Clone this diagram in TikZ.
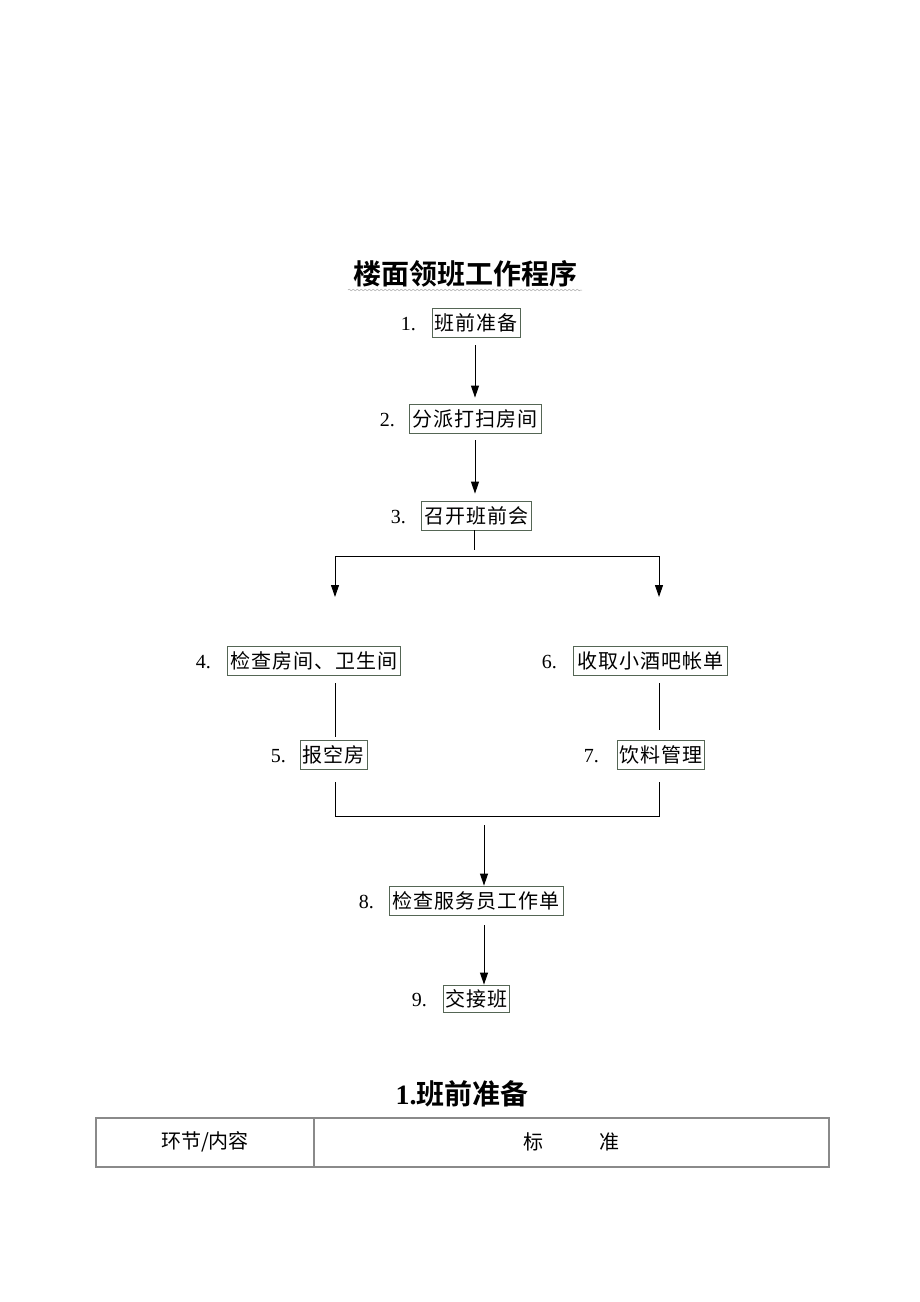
\documentclass[tikz,border=0pt]{standalone}
\usepackage{fontspec}
\setmainfont{Liberation Serif}
\newfontfamily\cjk{Noto Sans CJK SC}
\newfontfamily\cjkbox[LetterSpace=5]{Noto Sans CJK SC}
\newfontfamily\cjkb{Noto Sans CJK SC Bold}
\usetikzlibrary{arrows.meta,decorations.pathmorphing}
\definecolor{boxline}{HTML}{556655}
\definecolor{tabline}{HTML}{8A8A8A}
\begin{document}
\begin{tikzpicture}[x=1pt,y=-1pt,
  stepbox/.style={draw=boxline,line width=0.8pt,inner sep=0pt,minimum height=29pt,font=\cjkbox\fontsize{20}{20}\selectfont},
  numlabel/.style={anchor=east,inner sep=0pt,font=\fontsize{20}{20}\selectfont},
  conn/.style={line width=1pt,black},
  arr/.style={conn,-{Triangle[length=12pt,width=8pt]}},
  tab/.style={draw=tabline,line width=1.2pt},
  tabtext/.style={font=\cjk\fontsize{20}{20}\selectfont}]
\useasboundingbox (0,0) rectangle (920,1302);
% title
\node[font=\cjkb\fontsize{28}{28}\selectfont] (title) at (465,274) {楼面领班工作程序};
\draw[gray!70,line width=0.5pt,decorate,decoration={snake,amplitude=0.8pt,segment length=4pt}] (348,290) -- (582,290);
% boxes
\node[stepbox,minimum width=88pt] (b1) at (476,322.5) {班前准备};
\node[numlabel] (n1) at (416,324) {1.};
\node[stepbox,minimum width=132pt] (b2) at (475,418.5) {分派打扫房间};
\node[numlabel] (n2) at (395,420) {2.};
\node[stepbox,minimum width=110pt] (b3) at (476,515.5) {召开班前会};
\node[numlabel] (n3) at (406,517) {3.};
\node[stepbox,minimum width=173pt] (b4) at (313.5,661) {检查房间、卫生间};
\node[numlabel] (n4) at (211,662) {4.};
\node[stepbox,minimum width=67pt] (b5) at (333.5,755) {报空房};
\node[numlabel] (n5) at (286,756) {5.};
\node[stepbox,minimum width=154pt] (b6) at (650,661) {收取小酒吧帐单};
\node[numlabel] (n6) at (557,662) {6.};
\node[stepbox,minimum width=87pt] (b7) at (660.5,755) {饮料管理};
\node[numlabel] (n7) at (599,756) {7.};
\node[stepbox,minimum width=174pt] (b8) at (476,900.5) {检查服务员工作单};
\node[numlabel] (n8) at (374,902) {8.};
\node[stepbox,minimum width=66pt,minimum height=27pt] (b9) at (476,998.5) {交接班};
\node[numlabel] (n9) at (427,1000) {9.};
% connectors
\draw[arr,shorten <=8pt,shorten >=6pt] (b1.south -| 475,0) -- (b2.north -| 475,0);
\draw[arr,shorten <=7pt,shorten >=7pt] (b2.south -| 475,0) -- (b3.north -| 475,0);
\coordinate (s3) at (474,550);
\coordinate (hl) at (335,556);
\coordinate (hr) at (659,556);
\coordinate (al) at (335,597);
\coordinate (ar) at (659,597);
\draw[conn] (b3.south -| s3) -- (s3);
\draw[conn] (hl) -- (hr);
\draw[arr] (hl) -- (al);
\draw[arr] (hr) -- (ar);
\coordinate (l4a) at (335,683);
\coordinate (l4b) at (335,737);
\coordinate (r6a) at (659,683);
\coordinate (r6b) at (659,730);
\draw[conn] (l4a) -- (l4b);
\draw[conn] (r6a) -- (r6b);
\coordinate (l5a) at (335,782);
\coordinate (j1) at (335,816);
\coordinate (r7a) at (659,782);
\coordinate (j2) at (659,816);
\draw[conn] (l5a) -- (j1) -- (j2) -- (r7a);
\coordinate (m8) at (484,825);
\draw[arr] (m8) -- (b8.north -| m8);
\coordinate (m9) at (484,925);
\draw[arr] (m9) -- (b9.north -| m9);
% section title
\node[font=\cjkb\fontsize{28}{28}\selectfont] (sec) at (462,1094) {{\rmfamily\bfseries 1.}班前准备};
% table
\draw[tab] (96,1118) rectangle (829,1167);
\draw[tab] (314,1118) -- (314,1167);
\node[tabtext] (c1) at (205,1142) {环节/内容};
\node[tabtext] (c2) at (571,1142) {标\hspace{56pt}准};
\end{tikzpicture}
\end{document}
